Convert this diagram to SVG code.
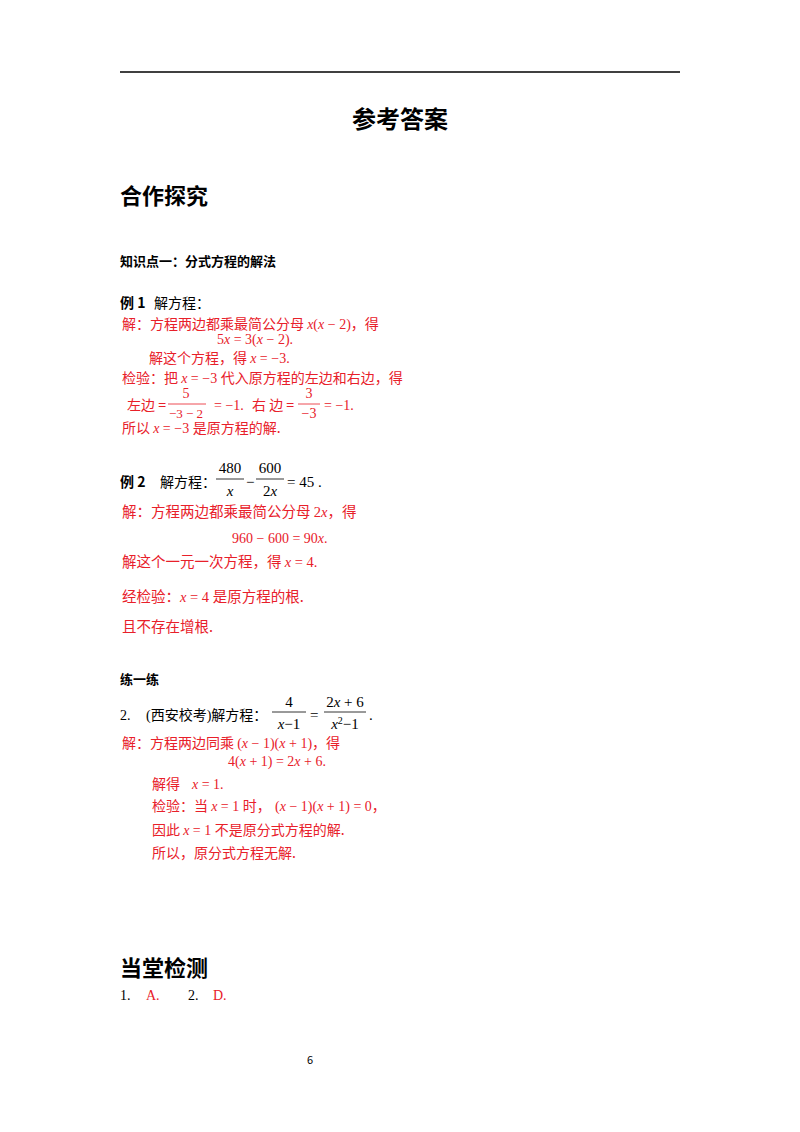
<svg xmlns="http://www.w3.org/2000/svg" width="800" height="1132" viewBox="0 0 800 1132">
<style>
text{font-family:"Liberation Serif","Noto Sans CJK SC",serif;font-size:14px;fill:#000}
.h{font-family:"Noto Sans CJK SC",sans-serif;font-weight:bold}
.c{font-family:"Noto Sans CJK SC",sans-serif}
.r{fill:#e8202a}
.i{font-style:italic}
line{stroke:#000}
.fr{stroke:#e8202a;stroke-width:0.8}
.fb{stroke:#000;stroke-width:0.8}
</style>
<rect width="800" height="1132" fill="#fff"/>
<line x1="120" y1="72" x2="680" y2="72" stroke-width="1.5"/>
<text class="h" x="400" y="128" text-anchor="middle" style="font-size:24px">参考答案</text>
<text class="h" x="120" y="204" style="font-size:22px">合作探究</text>
<text class="h" x="120" y="266" style="font-size:13px">知识点一：分式方程的解法</text>
<text class="h" x="120" y="308">例 1</text>
<text class="c" x="154" y="308">解方程：</text>
<g id="ex1">
<text class="c r" x="122" y="329" style="font-size:14px">解：方程两边都乘最简公分母 <tspan font-family="Liberation Serif" font-style="italic">x</tspan><tspan font-family="Liberation Serif">(</tspan><tspan font-family="Liberation Serif" font-style="italic">x</tspan><tspan font-family="Liberation Serif"> − 2)</tspan>，得</text>
<text class="r" x="217" y="344">5<tspan class="i">x</tspan> = 3(<tspan class="i">x</tspan> − 2).</text>
<text class="c r" x="149" y="363" style="font-size:14px">解这个方程，得 <tspan font-family="Liberation Serif" font-style="italic">x</tspan><tspan font-family="Liberation Serif"> = −3.</tspan></text>
<text class="c r" x="122" y="383" style="font-size:14px">检验：把 <tspan font-family="Liberation Serif" font-style="italic">x</tspan><tspan font-family="Liberation Serif"> = −3 </tspan>代入原方程的左边和右边，得</text>
<text class="c r" x="127" y="410" style="font-size:14px">左边 =</text>
<text class="r" x="186" y="398" text-anchor="middle">5</text>
<line class="fr" x1="168" y1="404" x2="206" y2="404"/>
<text class="r" x="186" y="418" text-anchor="middle" style="font-size:13px">−3 − 2</text>
<text class="r" x="214" y="410">= −1.</text>
<text class="c r" x="252" y="410" style="font-size:14px">右 边 =</text>
<text class="r" x="309" y="398" text-anchor="middle">3</text>
<line class="fr" x1="298" y1="404" x2="320" y2="404"/>
<text class="r" x="309" y="418" text-anchor="middle">−3</text>
<text class="r" x="324" y="410">= −1.</text>
<text class="c r" x="122" y="433" style="font-size:14px">所以 <tspan font-family="Liberation Serif" font-style="italic">x</tspan><tspan font-family="Liberation Serif"> = −3 </tspan>是原方程的解.</text>
</g>
<text class="h" x="120" y="487">例 2</text>
<text class="c" x="160" y="487">解方程：</text>
<text x="230" y="473" text-anchor="middle" style="font-size:15px">480</text>
<line class="fb" x1="216" y1="479" x2="244" y2="479"/>
<text class="i" x="230" y="496" text-anchor="middle" style="font-size:15px">x</text>
<text x="246" y="487" style="font-size:15px">−</text>
<text x="270" y="473" text-anchor="middle" style="font-size:15px">600</text>
<line class="fb" x1="256" y1="479" x2="284" y2="479"/>
<text x="270" y="496" text-anchor="middle" style="font-size:15px">2<tspan class="i">x</tspan></text>
<text x="287" y="487" style="font-size:15px">= 45 .</text>
<text class="c r" x="122" y="517" style="font-size:14.5px">解：方程两边都乘最简公分母 <tspan font-family="Liberation Serif">2</tspan><tspan font-family="Liberation Serif" font-style="italic">x</tspan>，得</text>
<text class="r" x="232" y="543">960 − 600 = 90<tspan class="i">x</tspan>.</text>
<text class="c r" x="122" y="567" style="font-size:14.5px">解这个一元一次方程，得 <tspan font-family="Liberation Serif" font-style="italic">x</tspan><tspan font-family="Liberation Serif"> = 4.</tspan></text>
<text class="c r" x="122" y="602" style="font-size:14.5px">经检验：<tspan font-family="Liberation Serif" font-style="italic">x</tspan><tspan font-family="Liberation Serif"> = 4 </tspan>是原方程的根.</text>
<text class="c r" x="122" y="632" style="font-size:14.5px">且不存在增根.</text>
<text class="h" x="120" y="684" style="font-size:13px">练一练</text>
<text x="120" y="720" style="font-size:14px">2.</text>
<text x="146" y="720" style="font-size:14px">(西安校考)解方程：</text>
<text x="289" y="707" text-anchor="middle" style="font-size:15px">4</text>
<line class="fb" x1="272" y1="712" x2="306" y2="712"/>
<text x="289" y="729" text-anchor="middle" style="font-size:15px"><tspan class="i">x</tspan>−1</text>
<text x="310" y="720" style="font-size:15px">=</text>
<text x="345" y="707" text-anchor="middle" style="font-size:15px">2<tspan class="i">x</tspan> + 6</text>
<line class="fb" x1="324" y1="712" x2="366" y2="712"/>
<text x="345" y="729" text-anchor="middle" style="font-size:15px"><tspan class="i">x</tspan><tspan dy="-5" style="font-size:10px">2</tspan><tspan dy="5">−1</tspan></text>
<text x="369" y="720" style="font-size:15px">.</text>
<text class="c r" x="122" y="748" style="font-size:14px">解：方程两边同乘 <tspan font-family="Liberation Serif">(</tspan><tspan font-family="Liberation Serif" font-style="italic">x</tspan><tspan font-family="Liberation Serif"> − 1)(</tspan><tspan font-family="Liberation Serif" font-style="italic">x</tspan><tspan font-family="Liberation Serif"> + 1)</tspan>，得</text>
<text class="r" x="228" y="766">4(<tspan class="i">x</tspan> + 1) = 2<tspan class="i">x</tspan> + 6.</text>
<text class="c r" x="152" y="789" style="font-size:14px">解得</text>
<text class="r i" x="192" y="789">x<tspan font-style="normal"> = 1.</tspan></text>
<text class="c r" x="152" y="811" style="font-size:14px">检验：当 <tspan font-family="Liberation Serif" font-style="italic">x</tspan><tspan font-family="Liberation Serif"> = 1 </tspan>时，</text>
<text class="r" x="275" y="811">(<tspan class="i">x</tspan> − 1)(<tspan class="i">x</tspan> + 1) = 0<tspan font-family="Noto Sans CJK SC">，</tspan></text>
<text class="c r" x="152" y="835" style="font-size:14px">因此 <tspan font-family="Liberation Serif" font-style="italic">x</tspan><tspan font-family="Liberation Serif"> = 1 </tspan>不是原分式方程的解.</text>
<text class="c r" x="152" y="858" style="font-size:14px">所以，原分式方程无解.</text>
<text class="h" x="120" y="976" style="font-size:22px">当堂检测</text>
<text x="120" y="1000">1.</text>
<text class="r" x="146" y="1000">A.</text>
<text x="188" y="1000">2.</text>
<text class="r" x="213" y="1000">D.</text>
<text class="c" x="307" y="1064" style="font-size:11px">6</text>
</svg>
